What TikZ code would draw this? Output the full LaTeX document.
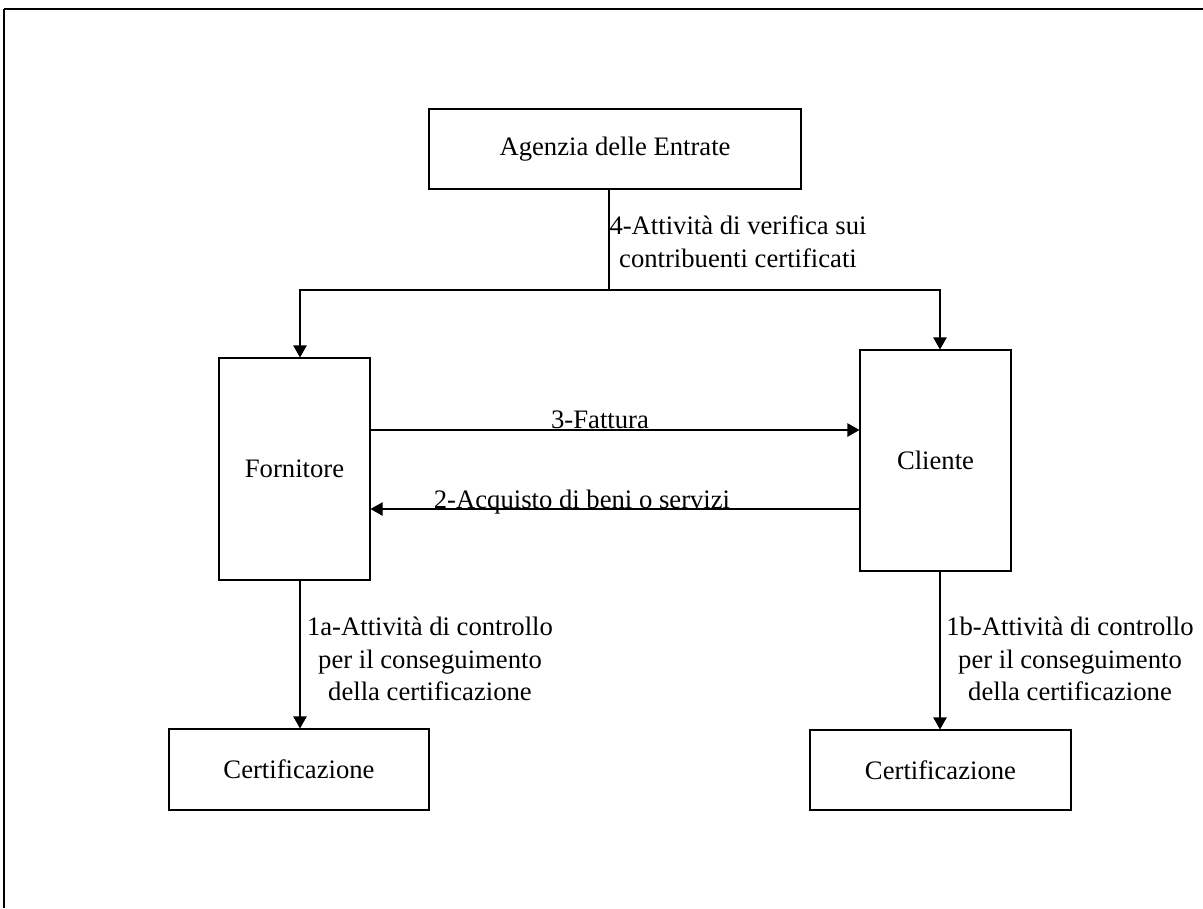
\documentclass[tikz,border=0pt]{standalone}
\usepackage{fontspec}
\setmainfont{Liberation Serif}
\usetikzlibrary{arrows.meta}
\begin{document}
\begin{tikzpicture}[x=0.75pt,y=-0.75pt,
  box/.style={draw=black,line width=0.8pt,inner sep=0pt,align=center,font=\fontsize{20pt}{24.4pt}\selectfont},
  lbl/.style={inner sep=0pt,align=center,font=\fontsize{20pt}{24.4pt}\selectfont},
  conn/.style={draw=black,line width=0.8pt},
  arr/.style={conn,-{Triangle[length=9pt,width=10pt]}},
  frameline/.style={draw=black,line width=1.5pt}]
\useasboundingbox (0,0) rectangle (1203,908);
% frame
\draw[frameline] (1203,9) -- (4,9);
\draw[draw=black,line width=1.1pt] (4,9) -- (4,908);
% boxes
\node[box,minimum width=279pt,minimum height=60pt] (agenzia) at (615,149) {Agenzia delle Entrate};
\node[box,minimum width=113.25pt,minimum height=166.5pt] (fornitore) at (294.5,469) {Fornitore};
\node[box,minimum width=113.25pt,minimum height=165.75pt] (cliente) at (935.5,460.5) {Cliente};
\node[box,minimum width=195pt,minimum height=60.75pt] (certA) at (299,769.5) {Certificazione};
\node[box,minimum width=195.75pt,minimum height=60pt] (certB) at (940.5,770) {Certificazione};
% helper coordinates
\coordinate (j) at (609,290);
\coordinate (jl) at (300,290);
\coordinate (jr) at (940,290);
\coordinate (y3) at (0,430);
\coordinate (y2) at (0,509);
% connectors
\draw[conn] (agenzia.south -| j) -- (j);
\draw[arr] (j) -- (jl) -- (jl |- fornitore.north);
\draw[arr] (j) -- (jr) -- (jr |- cliente.north);
\draw[arr] (fornitore.east |- y3) -- (cliente.west |- y3);
\draw[arr] (cliente.west |- y2) -- (fornitore.east |- y2);
\draw[arr] (jl |- fornitore.south) -- (jl |- certA.north);
\draw[arr] (jr |- cliente.south) -- (jr |- certB.north);
% labels
\node[lbl] (l4) at (738,242) {4-Attività di verifica sui\\contribuenti certificati};
\node[lbl,anchor=base] (l3) at (600,428) {3-Fattura};
\node[lbl,anchor=base] (l2) at (582,508) {2-Acquisto di beni o servizi};
\node[lbl] (l1a) at (430,659) {1a-Attività di controllo\\per il conseguimento\\della certificazione};
\node[lbl] (l1b) at (1070,659) {1b-Attività di controllo\\per il conseguimento\\della certificazione};
\end{tikzpicture}
\end{document}
